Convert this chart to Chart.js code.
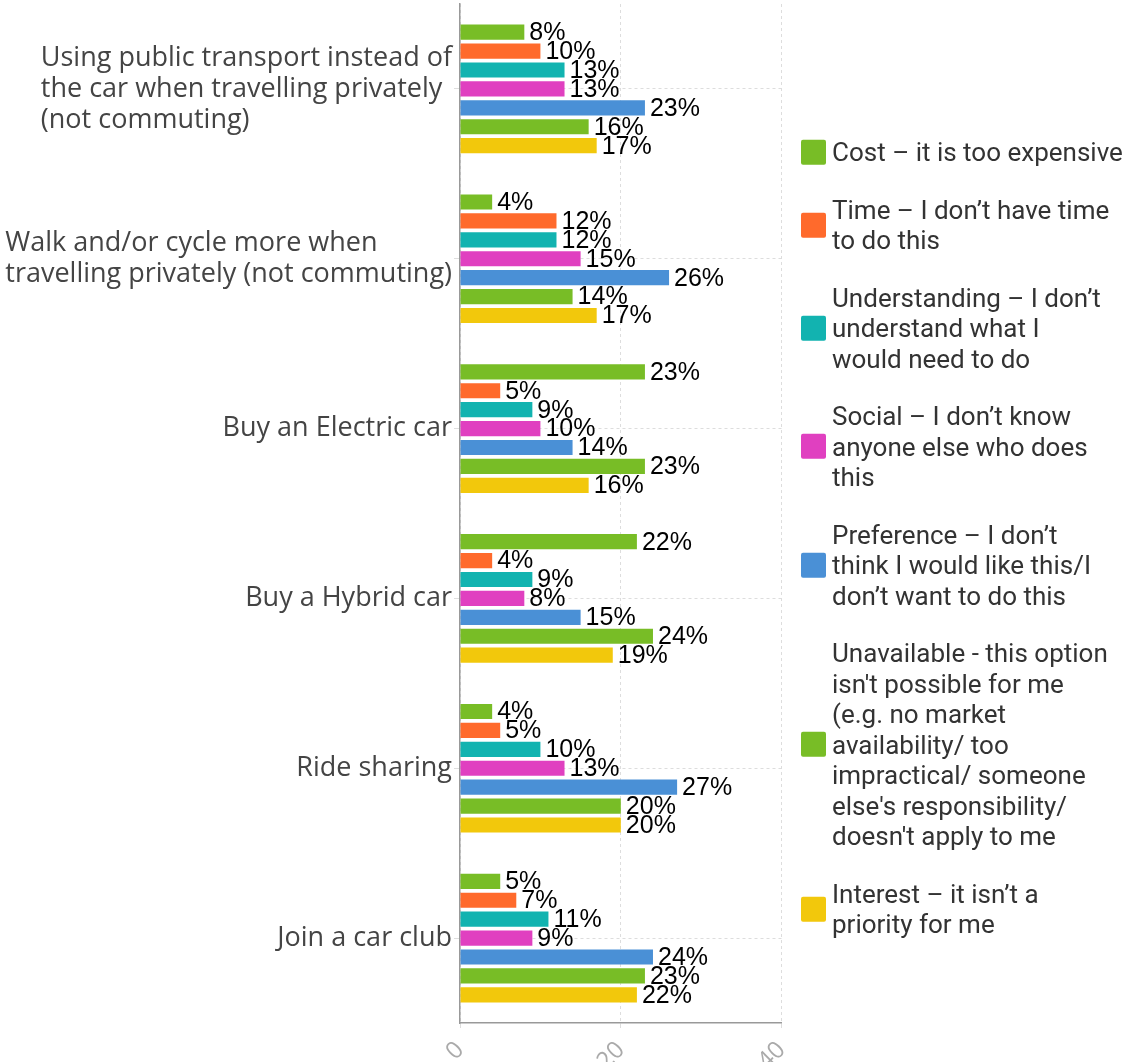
<!DOCTYPE html>
<html>
<head>
<meta charset="utf-8">
<script src="https://cdn.jsdelivr.net/npm/chart.js@4.4.1/dist/chart.umd.min.js"></script>
<style>
  html, body { margin: 0; padding: 0; background: #fff; }
  #wrap { position: relative; width: 1132px; height: 1062px; }
  #chartBox { position: absolute; left: 0; top: 0; width: 810px; height: 1062px; }
  #legend { position: absolute; left: 801px; top: 50%; transform: translateY(calc(-50% + 7px));
            font-family: Roboto, sans-serif; font-size: 26px; color: #333; line-height: 30.5px; }
  .item { display: flex; align-items: center; margin-bottom: 27px; }
  .item:last-child { margin-bottom: 0; }
  .box { width: 25px; height: 25px; border-radius: 2px; flex: none; margin-right: 6px; }
</style>
</head>
<body>
<div id="wrap">
  <div id="chartBox"><canvas id="barChart"></canvas></div>
  <div id="legend"></div>
</div>
<script>
const categories = [
  ['Using public transport instead of', 'the car when travelling privately', '(not commuting)'],
  ['Walk and/or cycle more when', 'travelling privately (not commuting)'],
  ['Buy an Electric car'],
  ['Buy a Hybrid car'],
  ['Ride sharing'],
  ['Join a car club']
];

const seriesNames = [
  ['Cost \u2013 it is too expensive'],
  ['Time \u2013 I don\u2019t have time', 'to do this'],
  ['Understanding \u2013 I don\u2019t', 'understand what I', 'would need to do'],
  ['Social \u2013 I don\u2019t know', 'anyone else who does', 'this'],
  ['Preference \u2013 I don\u2019t', 'think I would like this/I', 'don\u2019t want to do this'],
  ['Unavailable - this option', 'isn\'t possible for me', '(e.g. no market', 'availability/ too', 'impractical/ someone', 'else\'s responsibility/', 'doesn\'t apply to me'],
  ['Interest \u2013 it isn\u2019t a', 'priority for me']
];

const cost = [8, 4, 23, 22, 4, 5];
const time = [10, 12, 5, 4, 5, 7];
const understanding = [13, 12, 9, 9, 10, 11];
const social = [13, 15, 10, 8, 13, 9];
const preference = [23, 26, 14, 15, 27, 24];
const unavailable = [16, 14, 23, 24, 20, 23];
const interest = [17, 17, 16, 19, 20, 22];

const xTicks = [0, 20, 40];

const colors = ['#78bd26', '#ff6a2c', '#12b3b0', '#e040c0', '#4a90d6', '#78bd26', '#f2c80c'];
const series = [cost, time, understanding, social, preference, unavailable, interest];

// value labels at the end of each bar
const valueLabels = {
  id: 'valueLabels',
  afterDatasetsDraw(chart) {
    const ctx = chart.ctx;
    ctx.save();
    ctx.font = '25px "Liberation Sans", Arial, sans-serif';
    ctx.fillStyle = '#000';
    ctx.textAlign = 'left';
    ctx.textBaseline = 'middle';
    chart.data.datasets.forEach((ds, i) => {
      chart.getDatasetMeta(i).data.forEach((bar, j) => {
        ctx.fillText(ds.data[j] + '%', bar.x + 5, bar.y + 1);
      });
    });
    ctx.restore();
  }
};

// category names: lines left-aligned inside a block that sits against the axis
const categoryLabels = {
  id: 'categoryLabels',
  afterDraw(chart) {
    const ctx = chart.ctx;
    const yScale = chart.scales.y;
    const right = chart.chartArea.left - 8;
    const lineH = 31;
    ctx.save();
    ctx.font = '27px "Open Sans", sans-serif';
    ctx.fillStyle = '#444';
    ctx.textAlign = 'left';
    ctx.textBaseline = 'middle';
    categories.forEach((lines, i) => {
      const w = Math.max(...lines.map(l => ctx.measureText(l).width));
      const cy = yScale.getPixelForValue(i);
      const y0 = cy - (lines.length - 1) * lineH / 2;
      lines.forEach((l, k) => ctx.fillText(l, right - w, y0 + k * lineH));
    });
    ctx.restore();
  }
};

const datasets = series.map((data, i) => ({
  label: seriesNames[i].join(' '),
  data: data,
  backgroundColor: colors[i],
  categoryPercentage: 0.78,
  barPercentage: 0.8
}));

new Chart(document.getElementById('barChart'), {
  type: 'bar',
  data: { labels: categories.map(c => c.join(' ')), datasets: datasets },
  options: {
    indexAxis: 'y',
    responsive: true,
    maintainAspectRatio: false,
    animation: false,
    layout: { padding: { top: 4, right: 8, left: 0, bottom: 0 } },
    plugins: { legend: { display: false }, tooltip: { enabled: false } },
    scales: {
      x: {
        min: 0,
        max: 40,
        afterBuildTicks(scale) { scale.ticks = xTicks.map(v => ({ value: v })); },
        afterFit(scale) { scale.height = 39; },
        ticks: {
          minRotation: 45,
          maxRotation: 45,
          padding: 8,
          color: '#aaa',
          font: { family: '"Open Sans", sans-serif', size: 24 }
        },
        grid: { color: '#ddd', tickLength: 5 },
        border: { color: '#999', width: 1.5, dash: [3, 3] }
      },
      y: {
        afterFit(scale) { scale.width = 460; },
        ticks: { display: false },
        grid: { offset: false, color: '#ddd', tickLength: 6 },
        border: { color: '#999', width: 1.5, dash: [3, 3] }
      }
    }
  },
  plugins: [valueLabels, categoryLabels]
});

// legend on the right
const legend = document.getElementById('legend');
seriesNames.forEach((lines, i) => {
  const item = document.createElement('div');
  item.className = 'item';
  const box = document.createElement('div');
  box.className = 'box';
  box.style.background = colors[i];
  const text = document.createElement('div');
  text.innerHTML = lines.join('<br>');
  item.appendChild(box);
  item.appendChild(text);
  legend.appendChild(item);
});
</script>
</body>
</html>
